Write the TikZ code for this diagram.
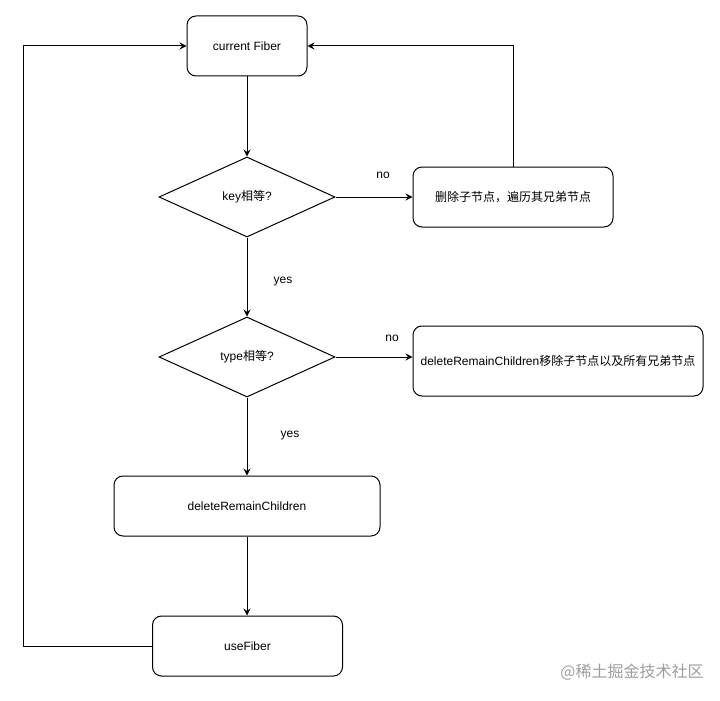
\documentclass[tikz,border=0pt]{standalone}
\usepackage{fontspec}
\setmainfont{Liberation Sans}
\newfontfamily\cjk{Noto Sans CJK SC}
\usetikzlibrary{shapes.geometric,arrows.meta}
\begin{document}
\begin{tikzpicture}[x=1pt,y=-1pt,
  txt/.style={font=\fontsize{12}{14}\selectfont},
  box/.style={draw,rounded corners=9pt,line width=1pt,inner sep=0pt,align=center,txt},
  dec/.style={draw,diamond,line width=1pt,minimum width=176pt,minimum height=80pt,inner sep=0pt,txt},
  arr/.style={-{Stealth[length=7pt,width=7pt,inset=2.5pt]},line width=1pt},
  lbl/.style={txt,inner sep=0pt}]
\fill[white] (0,0) rectangle (720,701);
\node[box,minimum width=120pt,minimum height=60pt] (cur) at (247,46) {current Fiber};
\node[dec] (key) at (247,197) {key{\cjk 相等}?};
\node[box,minimum width=200pt,minimum height=60pt] (del) at (513,197) {{\cjk 删除子节点，遍历其兄弟节点}};
\node[dec] (type) at (247,357) {type{\cjk 相等}?};
\node[box,minimum width=290pt,minimum height=70pt] (delall) at (558,361) {deleteRemainChildren{\cjk 移除子节点以及所有兄弟节点}};
\node[box,minimum width=266pt,minimum height=60pt] (drc) at (247,506) {deleteRemainChildren};
\node[box,minimum width=190pt,minimum height=60pt] (use) at (247.5,646) {useFiber};
\coordinate (lc) at (23,0);
\draw[arr] (cur.south) -- (key.north);
\draw[arr] (key.east) -- (del.west);
\draw[arr] (key.south) -- (type.north);
\draw[arr] (type.east) -- (type.east -| delall.west);
\draw[arr] (type.south) -- (drc.north);
\draw[arr] (drc.south) -- (drc.south |- use.north);
\draw[arr] (del.north) -- (del.north |- cur.east) -- (cur.east);
\draw[arr] (use.west) -- (use.west -| lc) -- (lc |- cur.west) -- (cur.west);
\node[lbl] (no1) at (383,175) {no};
\node[lbl] (yes1) at (283,282) {yes};
\node[lbl] (no2) at (392,338) {no};
\node[lbl] (yes2) at (290,436) {yes};
\node[inner sep=0pt,text=black!38,font=\cjk\fontsize{16}{18}\selectfont] (wm) at (632,672) {@稀土掘金技术社区};
\end{tikzpicture}
\end{document}
